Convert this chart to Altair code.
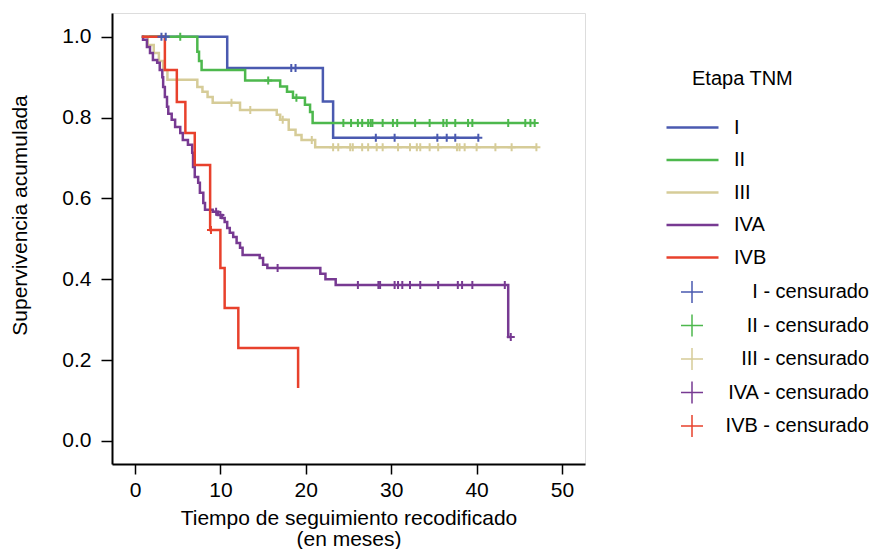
import altair as alt
import pandas as pd

# ---------------- data ----------------
groups = ["I", "II", "III", "IVA", "IVB"]
colors = ["#4a5ab0", "#4db84d", "#d6cc98", "#773a92", "#e8412c"]
cens_labels = ["I - censurado", "II - censurado", "III - censurado",
               "IVA - censurado", "IVB - censurado"]

# step points (time in months, cumulative survival)
t_I = [0.8, 10.8, 22.0, 23.2, 40.2]
s_I = [1.0, 0.923, 0.84, 0.75, 0.75]
c_I = [3.1, 3.6, 18.3, 18.8, 28.2, 30.4, 35.4, 36.5, 37.5, 40.2]

t_II = [0.8, 7.3, 7.5, 7.8, 12.9, 17.0, 17.8, 18.5, 19.9, 20.5, 20.8, 46.8]
s_II = [1.0, 0.963, 0.94, 0.918, 0.892, 0.877, 0.864, 0.849, 0.832, 0.814, 0.787, 0.787]
c_II = [5.3, 15.6, 18.9, 24.4, 25.3, 26.1, 26.6, 27.3, 27.6, 27.8, 29.0, 30.2, 30.7,
        32.8, 34.5, 36.1, 36.5, 37.5, 39.0, 39.5, 43.7, 45.7, 46.3, 46.8]

t_III = [0.8, 1.5, 2.2, 2.8, 3.3, 3.8, 7.3, 7.9, 8.5, 9.1, 12.3, 16.6, 17.0, 18.0,
         18.8, 19.5, 21.1, 47.0]
s_III = [1.0, 0.98, 0.96, 0.94, 0.918, 0.894, 0.876, 0.864, 0.851, 0.837, 0.819, 0.807,
         0.795, 0.77, 0.757, 0.745, 0.727, 0.727]
c_III = [11.3, 13.5, 17.3, 20.7, 23.2, 23.8, 25.2, 25.5, 26.6, 27.3, 28.3, 29.0, 30.8,
         32.2, 33.0, 33.4, 34.5, 35.5, 37.7, 38.0, 38.6, 40.0, 42.2, 44.1, 47.0]

t_IVA = [0.8, 0.94, 1.4, 1.76, 2.1, 2.6, 2.9, 3.2, 3.3, 3.5, 3.75, 3.9, 4.3, 4.7, 5.3,
         5.6, 6.2, 6.7, 6.8, 7.0, 7.4, 7.6, 8.0, 8.2, 9.1, 9.7, 10.2, 10.5, 10.8, 11.1,
         11.5, 11.9, 12.3, 12.6, 14.6, 15.0, 15.5, 21.7, 22.3, 23.5, 43.7, 44.0]
s_IVA = [1.0, 0.993, 0.975, 0.96, 0.943, 0.936, 0.918, 0.90, 0.876, 0.851, 0.827, 0.81,
         0.795, 0.777, 0.762, 0.745, 0.733, 0.713, 0.678, 0.653, 0.639, 0.614, 0.589,
         0.572, 0.567, 0.559, 0.552, 0.542, 0.527, 0.515, 0.505, 0.49, 0.478, 0.46,
         0.453, 0.436, 0.428, 0.414, 0.40, 0.386, 0.257, 0.257]
c_IVA = [9.5, 10.0, 16.7, 26.1, 28.5, 28.7, 30.4, 30.8, 31.3, 32.2, 33.4, 35.5, 37.8,
         38.3, 39.5, 43.3, 44.0]

t_IVB = [0.8, 3.5, 4.9, 5.9, 7.0, 8.8, 10.0, 10.5, 12.1, 19.1]
s_IVB = [1.0, 0.918, 0.839, 0.762, 0.683, 0.522, 0.428, 0.329, 0.23, 0.131]
c_IVB = [8.9]

series = {
    "I": (t_I, s_I, c_I),
    "II": (t_II, s_II, c_II),
    "III": (t_III, s_III, c_III),
    "IVA": (t_IVA, s_IVA, c_IVA),
    "IVB": (t_IVB, s_IVB, c_IVB),
}


def surv_at(ts, ss, t):
    v = ss[0]
    for ti, si in zip(ts, ss):
        if ti <= t + 1e-9:
            v = si
    return v


line_rows, cens_rows = [], []
for g, lab in zip(groups, cens_labels):
    ts, ss, cs = series[g]
    for ti, si in zip(ts, ss):
        line_rows.append({"etapa": g, "t": ti, "S": si})
    for ci in cs:
        cens_rows.append({"cens": lab, "t": ci, "S": surv_at(ts, ss, ci)})

df_lines = pd.DataFrame(line_rows)
df_cens = pd.DataFrame(cens_rows)

FONT = "Liberation Sans"

x_scale = alt.Scale(domain=[-2.69, 52.69], nice=False, zero=False)
y_scale = alt.Scale(domain=[-0.057, 1.059], nice=False, zero=False)

x_axis = alt.Axis(values=[0, 10, 20, 30, 40, 50], grid=False, tickSize=10, tickWidth=1.5,
                  domainWidth=2, domainColor="black", tickColor="black",
                  labelColor="black", labelFontSize=21, labelFont=FONT, labelPadding=5,
                  titleFontSize=21, titleFont=FONT, titleFontWeight="normal",
                  titleColor="black", titlePadding=7, titleLineHeight=21)
y_axis = alt.Axis(values=[0, 0.2, 0.4, 0.6, 0.8, 1.0], format=".1f", grid=False,
                  tickSize=11, tickWidth=1.5, domainWidth=2, domainColor="black",
                  tickColor="black", labelColor="black", labelFontSize=21,
                  labelFont=FONT, labelPadding=10, titleFontSize=21, titleFont=FONT,
                  titleFontWeight="normal", titleColor="black", titleY=202,
                  titleX=-92, titleBaseline="middle", titleAngle=270,
                  titleAlign="center")

# legend line symbol: wide horizontal stroke drawn outside the nominal symbol box
line_sym = "M-2,0H2"
lines = alt.Chart(df_lines).mark_line(interpolate="step-after", strokeWidth=2.5).encode(
    x=alt.X("t:Q", scale=x_scale, axis=x_axis,
            title=["Tiempo de seguimiento recodificado", "(en meses)"]),
    y=alt.Y("S:Q", scale=y_scale, axis=y_axis, title="Supervivencia acumulada"),
    color=alt.Color("etapa:N", scale=alt.Scale(domain=groups, range=colors),
                    legend=alt.Legend(title=None, orient="none", legendX=566,
                                      legendY=100, symbolType=line_sym,
                                      symbolSize=676, symbolStrokeWidth=2.5,
                                      labelFontSize=20, labelFont=FONT,
                                      labelColor="black", labelOffset=27,
                                      padding=0, rowPadding=7.5)),
)

cross = "M-1,0H1M0,-1V1"
cens = alt.Chart(df_cens).mark_point(shape=cross, size=64, strokeWidth=2,
                                     filled=False, opacity=1).encode(
    x="t:Q",
    y="S:Q",
    stroke=alt.Stroke("cens:N", scale=alt.Scale(domain=cens_labels, range=colors),
                      legend=alt.Legend(title=None, orient="none", legendX=568,
                                        legendY=267, symbolType=cross,
                                        symbolSize=484, symbolStrokeWidth=1.5,
                                        labelAlign="right", labelOffset=165,
                                        labelLimit=200,
                                        labelFontSize=20, labelFont=FONT,
                                        labelColor="black", padding=0,
                                        rowPadding=5.5)),
)

chart = alt.layer(lines, cens).properties(
    width=473, height=451,
    autosize=alt.AutoSizeParams(type="none"),
    padding={"left": 104, "top": 5, "right": 285, "bottom": 85},
    title=alt.TitleParams("Etapa TNM", anchor="start", frame="group", orient="top",
                          dx=580, dy=86, offset=0, baseline="middle", fontSize=20,
                          font=FONT, fontWeight="normal", color="black"),
).configure_view(stroke=None).configure(background="white")

chart.save("out.html", embed_options={"renderer": "svg", "actions": False})
